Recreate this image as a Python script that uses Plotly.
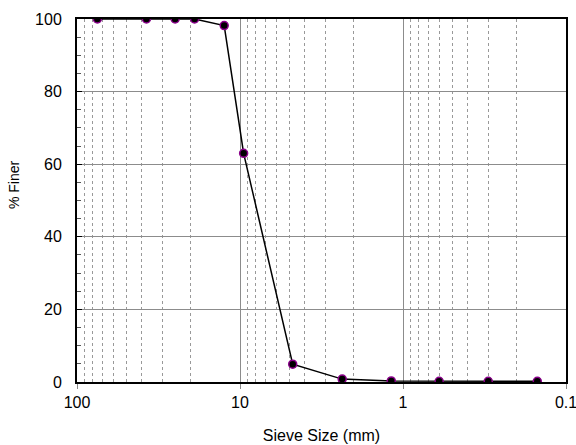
import plotly.graph_objects as go

sieve_mm = [75, 37.5, 25, 19, 12.5, 9.5, 4.75, 2.36, 1.18, 0.6, 0.3, 0.15]
pct_finer = [100, 100, 100, 100, 98.2, 63, 4.9, 0.8, 0.3, 0.2, 0.2, 0.2]

x_tickvals = [100, 10, 1, 0.1]
x_ticktext = ["100", "10", "1", "0.1"]
y_tickvals = [0, 20, 40, 60, 80, 100]

fig = go.Figure()
fig.add_trace(go.Scatter(
    x=sieve_mm, y=pct_finer, mode="lines+markers",
    line=dict(color="black", width=1.5),
    marker=dict(size=8, color="black", line=dict(color="#8B008B", width=1.5)),
    showlegend=False,
))

font = dict(family="Liberation Sans, Arial, sans-serif", color="black")
fig.update_layout(
    width=576, height=445,
    margin=dict(l=77, r=10, t=19, b=63),
    paper_bgcolor="white", plot_bgcolor="white",
    font=dict(size=16, **font),
    xaxis=dict(
        type="log", range=[2, -1], automargin=False,
        tickvals=x_tickvals, ticktext=x_ticktext,
        ticklabeloverflow="allow",
        ticks="outside", ticklen=5, tickcolor="#888888",
        showgrid=True, gridcolor="#8c8c8c", gridwidth=1,
        showline=True, linecolor="black", linewidth=2, mirror=True,
        zeroline=False,
        minor=dict(dtick="D1", showgrid=True, gridcolor="#999999",
                   griddash="dot", gridwidth=1, ticks=""),
        title=dict(text="Sieve Size (mm)", font=dict(size=16, **font), standoff=20),
    ),
    yaxis=dict(
        range=[0, 100], tickvals=y_tickvals, automargin=False,
        ticks="inside", ticklen=5, tickcolor="black",
        ticklabelstandoff=10,
        showgrid=True, gridcolor="#8c8c8c", gridwidth=1,
        showline=True, linecolor="black", linewidth=2, mirror=True,
        zeroline=False,
        minor=dict(dtick=5, ticks="inside", ticklen=4, tickcolor="#555555", showgrid=False),
    ),
    annotations=[dict(
        text="% Finer", textangle=-90, showarrow=False,
        xref="paper", yref="paper", x=-0.129, y=0.545,
        xanchor="center", yanchor="middle",
        font=dict(size=14, **font),
    )],
)
fig.write_html("out.html")
